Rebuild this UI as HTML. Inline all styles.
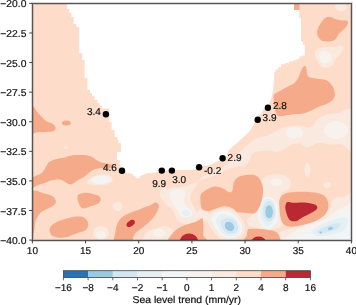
<!DOCTYPE html>
<html><head><meta charset="utf-8"><style>
html,body{margin:0;padding:0;background:#fff;width:356px;height:305px;overflow:hidden}
svg{display:block;will-change:transform}
text{font-family:"Liberation Sans",sans-serif;font-size:10.0px;fill:#111;stroke:#111;stroke-width:0.2px;text-rendering:geometricPrecision}
</style></head><body>
<svg width="356" height="305" viewBox="0 0 356 305">
<defs><clipPath id="pa"><rect x="32.4" y="3.4" width="319.0" height="236.7"/></clipPath></defs>

<g clip-path="url(#pa)">
<rect x="30" y="0" width="325" height="245" fill="#fddcc9"/>
<path fill="#fae9df" d="M86.5,182.3 C86.5,180.8 91.6,177.5 94.0,176.2 C96.4,174.9 98.7,174.5 101.0,174.3 C103.3,174.1 106.2,174.4 108.1,175.0 C110.0,175.6 112.0,176.8 112.5,178.1 C113.0,179.3 112.6,181.4 111.2,182.5 C109.8,183.6 106.9,184.4 104.0,184.8 C101.1,185.2 96.9,185.4 94.0,185.0 C91.1,184.6 86.5,183.8 86.5,182.3Z"/>
<ellipse fill="#fae9df" cx="117.6" cy="206.5" rx="5" ry="4.5"/>
<ellipse fill="#fae9df" cx="101" cy="233" rx="8" ry="7"/>
<path fill="#fae9df" d="M145.0,242.0 C139.8,240.3 145.3,234.2 147.0,232.0 C148.7,229.8 152.3,230.0 155.0,229.0 C157.7,228.0 160.5,226.2 163.0,226.0 C165.5,225.8 167.8,226.7 170.0,228.0 C172.2,229.3 174.7,231.7 176.0,234.0 C177.3,236.3 183.2,240.7 178.0,242.0 C172.8,243.3 150.2,243.7 145.0,242.0Z"/>
<path fill="#fae9df" d="M163.4,195.3 C163.7,193.1 165.4,191.5 166.8,190.2 C168.2,188.9 169.7,188.2 171.9,187.7 C174.2,187.1 177.5,187.3 180.3,186.9 C183.1,186.5 185.9,186.0 188.7,185.2 C191.5,184.3 194.4,182.9 197.2,181.8 C200.0,180.7 203.1,179.2 205.6,178.4 C208.1,177.6 209.1,178.0 212.3,176.7 C215.5,175.4 221.1,172.2 224.8,170.6 C228.5,169.0 231.4,168.2 234.7,167.3 C238.0,166.4 242.1,166.0 244.5,164.9 C246.9,163.8 248.3,162.3 249.4,160.8 C250.5,159.3 250.3,157.3 251.1,155.9 C251.9,154.5 252.9,153.4 254.3,152.6 C255.7,151.8 256.9,151.3 259.3,151.0 C261.7,150.7 265.7,150.3 268.7,150.5 C271.7,150.7 274.6,152.1 277.1,151.9 C279.6,151.7 281.6,150.4 283.8,149.3 C286.1,148.2 287.9,146.1 290.6,145.1 C293.3,144.1 297.2,143.1 300.0,143.4 C302.8,143.8 304.2,147.3 307.3,147.2 C310.4,147.1 315.0,143.5 318.8,143.0 C322.6,142.5 326.4,144.2 330.2,144.4 C334.0,144.6 338.8,143.7 341.7,144.4 C344.6,145.1 345.5,147.8 347.4,148.7 C349.3,149.6 352.1,156.3 353.0,150.0 C353.9,143.7 355.4,117.2 353.0,111.0 C350.6,104.8 343.1,112.4 338.8,112.9 C334.5,113.5 330.7,113.3 327.4,114.3 C324.1,115.2 321.7,116.4 318.8,118.6 C315.9,120.8 313.6,126.0 310.2,127.2 C306.8,128.4 303.0,125.8 298.7,125.8 C294.4,125.8 288.7,126.0 284.4,127.2 C280.1,128.4 276.1,131.4 272.9,132.9 C269.7,134.4 267.0,135.5 265.0,136.2 C263.0,136.9 262.4,136.6 260.9,137.0 C259.4,137.4 257.6,137.9 256.0,138.7 C254.4,139.5 252.8,140.7 251.1,141.9 C249.4,143.1 247.8,144.5 246.1,146.0 C244.4,147.5 242.8,149.3 241.2,151.0 C239.6,152.7 237.9,154.3 236.3,155.9 C234.7,157.5 233.3,159.2 231.4,160.8 C229.5,162.4 227.5,164.0 224.8,165.7 C222.1,167.4 218.3,169.4 215.0,171.0 C211.7,172.6 207.7,174.0 205.0,175.5 C202.3,177.0 200.3,178.4 199.0,180.0 C197.7,181.6 198.2,183.0 197.0,185.0 C195.8,187.0 193.2,189.6 192.1,191.9 C191.0,194.2 190.1,196.2 190.4,198.7 C190.7,201.2 192.7,204.6 193.8,207.1 C194.9,209.6 196.9,211.3 197.2,213.8 C197.5,216.3 197.4,220.3 195.5,222.0 C193.6,223.7 189.1,224.3 186.0,224.0 C182.9,223.7 178.7,221.4 176.9,220.0 C175.1,218.6 176.0,217.4 175.2,215.5 C174.4,213.6 173.6,210.8 171.9,208.8 C170.2,206.8 166.5,205.9 165.1,203.7 C163.7,201.4 163.1,197.6 163.4,195.3Z"/>
<path fill="#fae9df" d="M314.7,51.6 C315.3,49.3 318.1,48.5 321.5,47.7 C324.9,46.9 331.7,47.0 335.3,46.7 C338.9,46.4 342.1,44.9 343.2,45.7 C344.3,46.5 343.5,49.3 342.2,51.6 C340.9,53.9 337.1,57.0 335.3,59.5 C333.5,62.0 333.4,65.0 331.4,66.3 C329.4,67.6 325.8,68.1 323.5,67.3 C321.2,66.5 319.1,64.0 317.6,61.4 C316.1,58.8 314.1,53.9 314.7,51.6Z"/>
<ellipse fill="#fae9df" cx="341" cy="7" rx="6" ry="4"/>
<ellipse fill="#fae9df" cx="307.4" cy="170" rx="3" ry="7"/>
<ellipse fill="#fae9df" cx="327.3" cy="185" rx="4" ry="3"/>
<path fill="#fae9df" d="M268.0,178.0 C269.2,176.2 272.2,174.3 275.0,174.0 C277.8,173.7 282.3,174.7 285.0,176.0 C287.7,177.3 290.5,179.7 291.0,182.0 C291.5,184.3 289.8,188.3 288.0,190.0 C286.2,191.7 282.7,192.0 280.0,192.0 C277.3,192.0 274.0,191.2 272.0,190.0 C270.0,188.8 268.7,187.0 268.0,185.0 C267.3,183.0 266.8,179.8 268.0,178.0Z"/>
<ellipse fill="#fae9df" cx="341" cy="205" rx="10" ry="8"/>
<ellipse fill="#fae9df" cx="164" cy="194" rx="4" ry="7"/>
<ellipse fill="#fae9df" cx="66" cy="147.5" rx="2.5" ry="1.5"/>
<ellipse fill="#fae9df" cx="203" cy="215" rx="6" ry="7"/>
<path fill="#f8f2ef" d="M90.5,180.5 C90.3,179.2 94.1,177.2 96.0,176.3 C97.9,175.4 99.9,175.2 102.0,175.3 C104.1,175.4 107.1,176.0 108.5,176.8 C109.9,177.6 110.9,178.9 110.5,180.0 C110.1,181.1 108.2,182.9 106.0,183.6 C103.8,184.3 99.6,184.5 97.0,184.0 C94.4,183.5 90.7,181.8 90.5,180.5Z"/>
<path fill="#f8f2ef" d="M170.2,191.9 C171.3,190.6 174.7,189.7 176.9,189.4 C179.2,189.1 182.3,189.2 183.7,190.2 C185.1,191.2 185.4,193.6 185.4,195.3 C185.4,197.0 183.4,198.4 183.7,200.4 C184.0,202.4 185.9,205.4 187.0,207.1 C188.1,208.8 190.1,209.1 190.4,210.5 C190.7,211.9 190.1,214.4 188.7,215.5 C187.3,216.6 183.7,217.8 182.0,217.2 C180.3,216.6 180.0,214.4 178.6,212.2 C177.2,209.9 174.9,206.2 173.5,203.7 C172.1,201.2 170.8,199.0 170.2,197.0 C169.6,195.0 169.1,193.2 170.2,191.9Z"/>
<ellipse fill="#f8f2ef" cx="294.4" cy="132.9" rx="8.6" ry="5.7"/>
<ellipse fill="#f8f2ef" cx="336" cy="130" rx="12" ry="9"/>
<path fill="#f8f2ef" d="M319.6,52.6 C320.6,51.5 323.5,50.3 325.5,50.6 C327.5,50.9 330.4,53.1 331.4,54.6 C332.4,56.1 332.1,58.0 331.4,59.5 C330.7,61.0 329.0,62.9 327.4,63.4 C325.8,63.9 322.8,63.4 321.5,62.4 C320.2,61.4 319.9,59.1 319.6,57.5 C319.3,55.9 318.6,53.8 319.6,52.6Z"/>
<ellipse fill="#f8f2ef" cx="101" cy="235" rx="4.5" ry="4"/>
<ellipse fill="#f8f2ef" cx="159" cy="233" rx="6" ry="4"/>
<ellipse fill="#f8f2ef" cx="275" cy="182.5" rx="5" ry="3.5"/>
<path fill="#f2f5f6" d="M94.0,178.1 C95.2,177.4 98.9,176.7 101.0,176.7 C103.1,176.7 105.5,177.4 106.7,178.1 C107.9,178.8 108.6,180.1 108.1,180.9 C107.6,181.7 105.8,182.7 103.9,183.0 C102.0,183.3 98.6,183.3 96.9,183.0 C95.2,182.7 94.5,181.7 94.0,180.9 C93.5,180.1 92.8,178.8 94.0,178.1Z"/>
<path fill="#fae9df" d="M207.0,219.0 C207.4,217.1 209.0,214.2 211.0,212.5 C213.0,210.8 216.3,209.7 219.0,209.0 C221.7,208.3 224.5,208.2 227.0,208.5 C229.5,208.8 232.0,209.9 234.0,211.0 C236.0,212.1 237.4,213.2 239.0,215.0 C240.6,216.8 242.5,219.3 243.5,221.5 C244.5,223.7 245.1,225.8 245.0,228.0 C244.9,230.2 244.5,233.1 243.0,235.0 C241.5,236.9 238.7,238.6 236.0,239.5 C233.3,240.4 229.8,240.8 227.0,240.5 C224.2,240.2 221.4,239.2 219.0,237.5 C216.6,235.8 214.2,232.2 212.5,230.0 C210.8,227.8 209.4,225.8 208.5,224.0 C207.6,222.2 206.6,220.9 207.0,219.0Z"/>
<path fill="#f2f5f6" d="M211.2,218.3 C211.4,216.9 212.6,215.2 214.0,214.0 C215.4,212.8 217.6,211.7 219.7,211.2 C221.8,210.7 224.6,210.8 226.7,211.2 C228.8,211.5 230.7,212.4 232.3,213.3 C233.9,214.2 235.1,215.4 236.5,216.9 C237.9,218.4 239.8,220.6 240.7,222.5 C241.6,224.4 242.1,226.2 242.1,228.1 C242.1,230.0 241.9,232.2 240.7,233.7 C239.5,235.2 237.2,236.5 235.1,237.2 C233.0,237.9 230.4,238.2 228.1,237.9 C225.8,237.6 223.2,236.7 221.1,235.1 C219.0,233.5 216.8,230.2 215.4,228.1 C214.0,226.0 213.3,224.1 212.6,222.5 C211.9,220.9 211.0,219.7 211.2,218.3Z"/>
<path fill="#e6eff4" d="M216.0,219.7 C216.3,217.7 218.6,215.6 220.4,214.8 C222.2,214.0 224.4,214.3 226.7,214.8 C229.0,215.3 232.3,215.9 234.4,217.7 C236.5,219.4 238.5,223.1 239.3,225.3 C240.2,227.5 239.8,229.3 239.5,230.9 C239.2,232.5 239.2,234.2 237.5,235.0 C235.8,235.8 232.0,236.2 229.5,236.0 C227.0,235.8 224.3,235.0 222.5,233.5 C220.7,232.0 219.6,229.3 218.5,227.0 C217.4,224.7 215.7,221.7 216.0,219.7Z"/>
<path fill="#d4e6f1" d="M221.1,221.1 C222.0,220.1 224.8,218.7 226.7,218.3 C228.6,218.0 230.7,218.3 232.3,219.0 C233.9,219.7 235.6,221.0 236.5,222.5 C237.4,224.0 238.0,226.5 237.9,228.1 C237.8,229.7 237.0,231.4 235.8,232.3 C234.6,233.2 232.5,233.7 230.9,233.7 C229.3,233.7 227.4,233.2 226.0,232.3 C224.6,231.4 223.3,229.4 222.5,228.1 C221.7,226.8 221.3,225.8 221.1,224.6 C220.9,223.4 220.2,222.1 221.1,221.1Z"/>
<ellipse fill="#9bc9e0" cx="229.5" cy="226.4" rx="5.2" ry="4.2" transform="rotate(45 229.5 226.4)"/>
<path fill="#fae9df" d="M255.0,192.0 C255.8,188.2 259.5,182.8 262.0,180.0 C264.5,177.2 266.5,175.7 270.0,175.0 C273.5,174.3 280.2,174.3 283.0,176.0 C285.8,177.7 287.3,181.8 287.0,185.0 C286.7,188.2 282.2,190.0 281.0,195.0 C279.8,200.0 279.8,210.0 280.0,215.0 C280.2,220.0 282.7,222.7 282.0,225.0 C281.3,227.3 279.3,228.3 276.0,229.0 C272.7,229.7 266.3,229.5 262.0,229.0 C257.7,228.5 252.5,227.5 250.0,226.0 C247.5,224.5 246.5,222.0 247.0,220.0 C247.5,218.0 251.3,216.8 253.0,214.0 C254.7,211.2 256.7,206.7 257.0,203.0 C257.3,199.3 254.2,195.8 255.0,192.0Z"/>
<ellipse fill="#f8f2ef" cx="276.5" cy="182.5" rx="6" ry="4"/>
<ellipse fill="#f2f5f6" cx="268" cy="212.8" rx="10.3" ry="16.3"/>
<ellipse fill="#e6eff4" cx="268" cy="212.3" rx="8.1" ry="13.5"/>
<ellipse fill="#d4e6f1" cx="269" cy="211.2" rx="6" ry="10.3"/>
<ellipse fill="#9bc9e0" cx="269.1" cy="211.8" rx="3.8" ry="6.5"/>
<ellipse fill="#f2f5f6" cx="186.2" cy="213" rx="6" ry="4.5"/>
<ellipse fill="#e6eff4" cx="186.2" cy="213" rx="4" ry="3"/>
<ellipse fill="#f2f5f6" cx="175.2" cy="191.9" rx="3" ry="2"/>
<path fill="#fae9df" d="M276.0,242.0 C263.2,240.7 273.2,236.4 276.0,234.0 C278.8,231.6 287.7,229.8 293.0,227.7 C298.3,225.6 303.0,223.4 308.0,221.3 C313.0,219.2 319.1,217.4 323.0,214.9 C326.9,212.4 328.6,208.9 331.5,206.4 C334.4,203.9 336.5,201.8 340.1,200.0 C343.7,198.2 350.9,188.7 353.0,195.7 C355.1,202.7 365.8,234.3 353.0,242.0 C340.2,249.7 288.8,243.3 276.0,242.0Z"/>
<path fill="#f8f2ef" d="M286.0,242.0 C275.2,241.0 285.6,238.3 288.0,236.0 C290.4,233.7 296.5,230.1 300.5,228.0 C304.5,225.9 307.8,225.1 312.0,223.5 C316.2,221.9 322.0,220.6 326.0,218.5 C330.0,216.4 333.0,212.9 336.0,211.0 C339.0,209.1 341.2,208.0 344.0,207.0 C346.8,206.0 351.5,199.2 353.0,205.0 C354.5,210.8 364.2,235.8 353.0,242.0 C341.8,248.2 296.8,243.0 286.0,242.0Z"/>
<path fill="#f2f5f6" d="M295.2,242.0 C286.4,241.0 297.9,237.7 300.0,236.0 C302.1,234.3 303.8,234.3 308.0,232.0 C312.2,229.7 319.8,225.2 325.1,222.4 C330.5,219.6 336.2,216.9 340.1,214.9 C344.0,212.9 346.5,211.4 348.6,210.6 C350.8,209.8 352.3,204.8 353.0,210.0 C353.7,215.2 362.6,236.7 353.0,242.0 C343.4,247.3 304.0,243.0 295.2,242.0Z"/>
<path fill="#e6eff4" d="M312.3,231.0 C313.0,228.9 319.1,225.5 323.0,223.5 C326.9,221.5 332.2,220.3 335.8,219.2 C339.4,218.1 342.4,216.7 344.4,217.0 C346.4,217.3 347.6,219.2 347.6,221.3 C347.6,223.5 346.7,227.8 344.4,229.9 C342.1,232.0 338.0,233.0 333.7,234.1 C329.4,235.2 322.3,236.8 318.7,236.3 C315.1,235.8 311.6,233.1 312.3,231.0Z"/>
<path fill="#d4e6f1" d="M317.0,231.0 C317.8,229.9 322.3,228.2 325.0,227.0 C327.7,225.8 330.7,224.7 333.0,224.0 C335.3,223.3 337.8,222.7 339.0,223.0 C340.2,223.3 340.5,224.9 340.0,226.0 C339.5,227.1 338.0,228.5 336.0,229.5 C334.0,230.5 330.7,231.3 328.0,232.0 C325.3,232.7 321.8,233.7 320.0,233.5 C318.2,233.3 316.2,232.1 317.0,231.0Z"/>
<ellipse fill="#9bc9e0" cx="330.4" cy="228.5" rx="2.5" ry="1.5" transform="rotate(-15 330.4 228.5)"/>
<ellipse fill="#9bc9e0" cx="320.8" cy="232.4" rx="1.3" ry="1"/>
<path fill="#f5aa89" d="M31.0,106.0 C32.3,103.2 36.5,111.5 39.0,114.0 C41.5,116.5 43.7,119.3 46.0,121.0 C48.3,122.7 51.4,122.9 53.0,124.0 C54.6,125.1 55.3,126.3 55.5,127.5 C55.7,128.7 55.6,130.2 54.0,131.0 C52.4,131.8 48.5,131.8 46.0,132.0 C43.5,132.2 41.5,132.2 39.0,132.0 C36.5,131.8 32.3,135.3 31.0,131.0 C29.7,126.7 29.7,108.8 31.0,106.0Z"/>
<ellipse fill="#f5aa89" cx="66.4" cy="123" rx="4.5" ry="2.5"/>
<path fill="#f5aa89" d="M31.0,178.7 C32.8,176.1 39.2,175.2 41.8,173.0 C44.4,170.8 45.6,167.4 46.8,165.6 C48.0,163.8 47.4,163.1 49.0,162.0 C50.6,160.9 54.8,159.6 56.6,159.0 C58.4,158.4 58.6,158.6 60.0,158.3 C61.4,158.1 63.1,157.9 64.7,157.5 C66.3,157.1 67.6,156.3 69.4,155.9 C71.2,155.5 73.3,155.2 75.7,155.1 C78.1,155.0 81.0,154.8 83.6,155.1 C86.2,155.4 89.4,155.9 91.5,156.7 C93.6,157.5 94.6,159.0 96.2,159.9 C97.8,160.8 99.3,161.6 100.9,162.2 C102.5,162.8 104.0,163.0 106.0,163.5 C108.0,164.0 111.8,164.3 113.0,165.0 C114.2,165.7 114.2,166.9 113.0,167.5 C111.8,168.1 108.5,168.1 106.0,168.3 C103.5,168.5 100.0,168.2 97.8,168.5 C95.6,168.8 94.6,169.3 93.0,170.1 C91.4,170.9 89.9,172.0 88.3,173.2 C86.7,174.4 85.2,176.1 83.6,177.2 C82.0,178.2 80.5,178.6 78.9,179.5 C77.3,180.4 75.7,181.9 74.2,182.7 C72.7,183.5 71.5,184.5 70.0,184.4 C68.5,184.3 66.7,182.8 65.0,182.0 C63.3,181.2 62.2,179.8 60.0,179.5 C57.8,179.2 54.2,179.7 51.7,180.3 C49.2,180.9 47.2,182.2 45.0,183.0 C42.8,183.8 40.2,184.4 38.5,185.0 C36.8,185.6 36.2,185.9 35.0,186.5 C33.8,187.1 31.7,189.8 31.0,188.5 C30.3,187.2 29.2,181.3 31.0,178.7Z"/>
<path fill="#f5aa89" d="M31.0,193.8 C33.3,186.8 41.2,193.3 45.0,193.8 C48.8,194.3 51.8,195.6 53.6,197.0 C55.4,198.4 56.1,200.9 55.8,202.5 C55.4,204.1 53.7,205.4 51.5,206.8 C49.3,208.2 45.0,209.7 42.8,211.1 C40.6,212.5 39.8,213.7 38.5,215.5 C37.2,217.3 35.9,219.5 35.2,222.0 C34.5,224.5 34.9,228.3 34.2,230.6 C33.5,232.9 31.5,242.1 31.0,236.0 C30.5,229.9 28.7,200.8 31.0,193.8Z"/>
<path fill="#f5aa89" d="M78.0,195.1 C79.0,193.8 81.2,193.1 83.7,192.9 C86.2,192.7 90.1,193.4 92.7,194.0 C95.3,194.6 98.1,195.1 99.4,196.2 C100.7,197.3 100.9,199.4 100.5,200.7 C100.1,202.0 98.9,203.2 97.2,204.1 C95.5,205.0 92.7,205.6 90.4,206.3 C88.2,207.1 85.4,208.6 83.7,208.6 C82.0,208.6 81.2,207.6 80.3,206.3 C79.3,205.0 78.4,202.6 78.0,200.7 C77.6,198.8 77.0,196.4 78.0,195.1Z"/>
<path fill="#f5aa89" d="M50.0,227.7 C50.8,226.2 51.9,224.7 54.5,223.2 C57.1,221.7 62.0,219.8 65.7,218.7 C69.4,217.6 73.9,216.7 76.9,216.5 C79.9,216.3 81.8,216.5 83.7,217.6 C85.6,218.7 87.8,221.1 88.2,223.2 C88.6,225.3 87.8,228.3 85.9,230.0 C84.0,231.7 79.9,232.2 76.9,233.3 C73.9,234.4 71.0,235.9 68.0,236.7 C65.0,237.4 61.6,238.0 59.0,237.8 C56.4,237.6 53.7,236.5 52.2,235.6 C50.7,234.7 50.4,233.5 50.0,232.2 C49.6,230.9 49.2,229.2 50.0,227.7Z"/>
<path fill="#f5aa89" d="M115.3,242.0 C112.5,240.5 114.9,236.1 115.3,232.9 C115.7,229.7 116.5,225.5 117.8,222.8 C119.1,220.1 120.8,218.2 122.9,216.5 C125.0,214.8 127.5,214.0 130.4,212.7 C133.3,211.4 137.2,210.2 140.6,208.9 C144.0,207.6 148.2,206.2 150.7,205.1 C153.2,204.0 154.3,202.6 155.7,202.6 C157.0,202.6 158.5,203.8 158.8,205.1 C159.1,206.4 158.6,208.1 157.7,210.2 C156.8,212.3 155.0,215.4 153.2,217.7 C151.4,220.0 149.0,222.2 146.9,224.1 C144.8,226.0 142.5,227.6 140.6,229.1 C138.7,230.6 136.8,231.4 135.5,232.9 C134.2,234.4 133.6,236.5 133.0,238.0 C132.4,239.5 134.9,241.3 132.0,242.0 C129.1,242.7 118.1,243.5 115.3,242.0Z"/>
<path fill="#f5aa89" d="M200.6,195.3 C201.1,193.1 202.4,192.7 204.0,191.5 C205.6,190.3 208.0,188.8 210.0,188.0 C212.0,187.2 213.8,186.4 216.0,186.5 C218.2,186.6 220.9,187.6 223.0,188.5 C225.1,189.4 227.2,191.6 228.7,192.0 C230.2,192.4 231.4,192.3 232.2,191.0 C233.0,189.7 232.8,185.9 233.4,184.0 C234.0,182.1 234.3,180.7 235.7,179.3 C237.0,177.9 239.0,176.6 241.5,175.8 C244.0,175.0 248.1,174.6 250.8,174.7 C253.5,174.8 255.6,175.0 257.5,176.5 C259.4,178.0 261.1,181.1 262.0,183.7 C262.9,186.3 263.3,189.1 263.1,192.3 C262.9,195.5 262.1,199.8 261.0,203.1 C259.9,206.3 258.2,210.1 256.6,211.8 C255.0,213.5 253.9,213.4 251.5,213.5 C249.1,213.6 244.6,212.9 242.1,212.6 C239.6,212.3 237.9,212.5 236.5,211.9 C235.1,211.3 234.9,209.9 233.7,209.1 C232.5,208.3 231.1,207.5 229.5,207.0 C227.9,206.5 225.8,206.2 223.9,206.3 C222.0,206.4 220.2,207.1 218.3,207.7 C216.4,208.3 214.2,209.2 212.6,209.8 C210.9,210.4 210.0,211.2 208.4,211.2 C206.8,211.2 204.1,210.9 202.8,209.8 C201.5,208.8 201.2,207.3 200.8,204.9 C200.4,202.5 200.1,197.5 200.6,195.3Z"/>
<path fill="#f5aa89" d="M170.8,242.0 C165.0,240.9 169.7,237.8 170.8,235.6 C171.9,233.4 174.8,230.8 177.3,229.0 C179.8,227.2 182.8,226.1 186.0,224.8 C189.2,223.6 194.1,222.6 196.8,221.5 C199.5,220.4 201.1,217.8 202.2,218.3 C203.3,218.9 203.1,221.9 203.3,224.8 C203.5,227.7 202.9,232.7 203.3,235.6 C203.7,238.5 210.9,240.9 205.5,242.0 C200.1,243.1 176.6,243.1 170.8,242.0Z"/>
<path fill="#f5aa89" d="M246.0,242.0 C240.6,240.9 246.5,237.5 246.8,235.6 C247.1,233.7 247.2,231.6 247.6,230.5 C248.0,229.4 247.2,229.2 249.3,228.9 C251.4,228.6 256.5,228.6 260.3,228.9 C264.1,229.2 269.6,229.9 272.1,230.5 C274.6,231.1 274.5,231.1 275.5,232.2 C276.5,233.3 277.4,235.7 278.0,237.3 C278.6,238.9 284.3,241.2 279.0,242.0 C273.7,242.8 251.4,243.1 246.0,242.0Z"/>
<path fill="#f5aa89" d="M279.4,200.2 C279.9,198.2 281.0,196.4 282.7,195.1 C284.4,193.8 286.4,193.2 289.5,192.6 C292.6,192.0 297.1,191.7 301.3,191.7 C305.5,191.7 311.2,192.0 314.8,192.6 C318.4,193.2 321.1,193.8 323.2,195.1 C325.3,196.4 326.5,198.2 327.4,200.2 C328.2,202.2 328.6,204.7 328.3,206.9 C328.0,209.2 327.1,211.7 325.7,213.7 C324.3,215.7 321.9,217.3 319.8,218.7 C317.7,220.1 315.6,221.1 313.1,222.1 C310.6,223.1 307.5,223.9 304.7,224.6 C301.9,225.3 299.0,226.0 296.2,226.3 C293.4,226.6 290.1,226.9 287.8,226.3 C285.6,225.7 284.0,224.7 282.7,222.9 C281.4,221.1 280.8,218.1 280.2,215.4 C279.6,212.7 279.5,209.4 279.4,206.9 C279.3,204.4 278.8,202.2 279.4,200.2Z"/>
<path fill="#f5aa89" d="M270.0,242.0 C268.3,240.3 268.8,233.5 270.0,232.0 C271.2,230.5 275.8,231.3 277.5,233.0 C279.2,234.7 281.2,240.5 280.0,242.0 C278.8,243.5 271.7,243.7 270.0,242.0Z"/>
<path fill="#f5aa89" d="M273.9,101.7 C273.8,99.7 273.0,96.8 274.0,95.0 C275.0,93.2 277.5,92.3 279.7,91.0 C281.9,89.7 284.6,88.2 287.0,86.9 C289.4,85.6 292.5,84.6 294.3,83.2 C296.1,81.8 297.0,80.1 298.0,78.3 C299.0,76.5 299.7,74.0 300.5,72.2 C301.3,70.4 302.1,68.3 302.9,67.3 C303.7,66.3 304.7,65.7 305.3,66.1 C305.9,66.5 306.2,68.2 306.6,69.8 C307.0,71.4 306.6,74.5 307.8,75.9 C309.0,77.3 311.2,77.7 313.9,78.3 C316.5,78.9 321.2,79.0 323.7,79.6 C326.2,80.2 327.4,80.6 329.0,82.0 C330.6,83.4 332.5,85.9 333.5,88.0 C334.5,90.1 334.9,92.8 334.8,94.8 C334.7,96.8 334.2,98.2 332.9,99.7 C331.6,101.2 329.3,102.6 327.0,103.7 C324.7,104.8 321.7,105.4 319.1,106.6 C316.5,107.8 313.9,109.4 311.3,110.6 C308.7,111.8 306.0,112.9 303.4,113.5 C300.8,114.1 298.4,113.8 295.5,114.1 C292.6,114.4 288.3,115.2 285.7,115.5 C283.1,115.8 281.3,116.3 279.8,116.1 C278.3,115.9 277.7,116.0 276.8,114.5 C275.9,113.0 275.0,109.1 274.5,107.0 C274.0,104.9 274.0,103.7 273.9,101.7Z"/>
<path fill="#f5aa89" d="M317.0,32.5 C317.0,29.8 319.0,26.0 320.5,23.5 C322.0,21.0 324.3,18.6 326.0,17.5 C327.7,16.4 329.3,16.9 330.9,17.2 C332.5,17.5 334.2,18.7 335.8,19.2 C337.4,19.7 339.1,20.0 340.7,20.2 C342.3,20.4 344.5,20.5 345.7,20.6 C346.9,20.8 347.3,20.4 347.6,21.1 C347.9,21.8 348.1,23.4 347.6,24.6 C347.1,25.8 346.2,26.9 344.7,28.5 C343.2,30.1 340.2,32.4 338.6,34.3 C337.0,36.2 336.8,38.5 335.0,39.7 C333.2,40.9 330.2,41.5 327.8,41.5 C325.4,41.5 322.3,41.2 320.5,39.7 C318.7,38.2 317.0,35.2 317.0,32.5Z"/>
<path fill="#f5aa89" d="M293,2 L299.5,2 L299.5,10 L294,10Z"/>
<ellipse fill="#ba2832" cx="130.7" cy="223.5" rx="4.6" ry="2.8" transform="rotate(-35 130.7 223.5)"/>
<ellipse fill="#ba2832" cx="189" cy="241" rx="9" ry="7.5"/>
<ellipse fill="#ba2832" cx="258.5" cy="241.3" rx="7" ry="4.8"/>
<path fill="#ba2832" d="M286.1,203.5 C286.5,202.7 286.7,202.0 287.8,201.9 C288.9,201.8 291.2,202.6 292.9,202.7 C294.6,202.8 295.6,202.7 297.9,202.7 C300.1,202.7 303.6,202.4 306.4,202.7 C309.2,203.0 313.0,203.7 314.8,204.4 C316.6,205.1 317.2,205.9 317.3,206.9 C317.4,207.9 316.9,209.2 315.6,210.3 C314.3,211.4 311.8,212.6 309.7,213.7 C307.6,214.8 305.0,215.9 303.0,217.0 C301.0,218.1 299.3,219.7 297.9,220.4 C296.5,221.1 295.8,221.3 294.5,221.3 C293.2,221.3 291.4,221.1 290.3,220.4 C289.2,219.7 288.5,218.4 287.8,217.0 C287.1,215.6 286.5,213.7 286.1,212.0 C285.7,210.3 285.3,208.3 285.3,206.9 C285.3,205.5 285.7,204.3 286.1,203.5Z"/>
<path fill="#fff" d="M67,0 V9 H69.4 V13 H71.4 V17 H73.7 V24 H76.3 V27 H79.2 V53 H82.2 V60 H84.6 V78 H87.5 V90 H90 V93 H91.9 V96 H94.4 V100 H97.4 V103 H99.4 V106 H101.7 V108.5 H109.5 V122 H111.6 V130 H114.6 V137 H117.6 V140 H118.4 V143 H121 V152 H117 V160 H119.7 V164 L121,167 L123,170 L125.4,170.5 V172.4 L127.9,173 L130.4,173.6 L132.8,174.2 L133.5,175.8 L135.3,176.1 L135.9,178.3 L139,178.3 L139.6,176.7 L141.5,175.5 L144.6,174.2 L146.4,173.3 L150.1,173 L155.1,172.4 L158.8,171.7 L162,171.1 L172,170.2 L195.1,169.7 L201.4,166.5 L209,165.2 L214.1,163.3 L216.6,161.4 L222.9,160.2 L226.7,156 L228.6,150.2 L233.1,146.2 L237.1,143 L240.4,139.7 L243.6,137 L246.3,134.4 L250.2,130.5 L252.8,125.9 L255.4,122.6 L258.3,116.5 L261.2,113.6 L262.7,110.6 L267.1,106.2 L268.6,104.7 L270,101.8 L271.5,97.4 L273,90 L274,80 L274.4,72.1 H275.7 V69.5 H278.4 V66.9 H281 V64.3 H284.9 V63 H288.9 V61.6 H292.8 V60.3 H296.7 V59 H299.3 V56.4 H302 V55.5 H304.8 V44.7 H303 V41.8 H301 V18 H299.3 V10 H294 V0 Z"/>
</g>
<rect x="32.5" y="3.5" width="319" height="237" fill="none" stroke="#000" stroke-opacity="0.16" stroke-width="3"/>
<rect x="32.5" y="3.5" width="319" height="237" fill="none" stroke="#555" stroke-width="1"/>
<path stroke="#444" stroke-width="1" d="M29.2,3.40 H32.4 M29.2,32.99 H32.4 M29.2,62.57 H32.4 M29.2,92.16 H32.4 M29.2,121.75 H32.4 M29.2,151.34 H32.4 M29.2,180.92 H32.4 M29.2,210.51 H32.4 M29.2,240.10 H32.4 M32.40,240.1 V243.4 M85.57,240.1 V243.4 M138.73,240.1 V243.4 M191.90,240.1 V243.4 M245.07,240.1 V243.4 M298.23,240.1 V243.4 M351.40,240.1 V243.4"/>
<g transform="translate(26.4,7.4) scale(1.03,1)"><text x="0" y="0" text-anchor="end">−20.0</text></g>
<g transform="translate(26.4,36.99) scale(1.03,1)"><text x="0" y="0" text-anchor="end">−22.5</text></g>
<g transform="translate(26.4,66.57) scale(1.03,1)"><text x="0" y="0" text-anchor="end">−25.0</text></g>
<g transform="translate(26.4,96.16) scale(1.03,1)"><text x="0" y="0" text-anchor="end">−27.5</text></g>
<g transform="translate(26.4,125.75) scale(1.03,1)"><text x="0" y="0" text-anchor="end">−30.0</text></g>
<g transform="translate(26.4,155.34) scale(1.03,1)"><text x="0" y="0" text-anchor="end">−32.5</text></g>
<g transform="translate(26.4,184.92) scale(1.03,1)"><text x="0" y="0" text-anchor="end">−35.0</text></g>
<g transform="translate(26.4,214.51) scale(1.03,1)"><text x="0" y="0" text-anchor="end">−37.5</text></g>
<g transform="translate(26.4,244.1) scale(1.03,1)"><text x="0" y="0" text-anchor="end">−40.0</text></g>
<g transform="translate(32.4,254.3) scale(1.0,1)"><text x="0" y="0" text-anchor="middle">10</text></g>
<g transform="translate(85.57,254.3) scale(1.0,1)"><text x="0" y="0" text-anchor="middle">15</text></g>
<g transform="translate(138.73,254.3) scale(1.0,1)"><text x="0" y="0" text-anchor="middle">20</text></g>
<g transform="translate(191.9,254.3) scale(1.0,1)"><text x="0" y="0" text-anchor="middle">25</text></g>
<g transform="translate(245.07,254.3) scale(1.0,1)"><text x="0" y="0" text-anchor="middle">30</text></g>
<g transform="translate(298.23,254.3) scale(1.0,1)"><text x="0" y="0" text-anchor="middle">35</text></g>
<g transform="translate(351.4,254.3) scale(1.0,1)"><text x="0" y="0" text-anchor="middle">40</text></g>
<g fill="#000"><circle cx="105.9" cy="114.3" r="3.2"/><circle cx="122" cy="170.8" r="3.2"/><circle cx="161.8" cy="170.6" r="3.2"/><circle cx="171.9" cy="170.6" r="3.2"/><circle cx="199.1" cy="167.3" r="3.2"/><circle cx="222.6" cy="158.2" r="3.2"/><circle cx="267.9" cy="107.8" r="3.2"/><circle cx="257.7" cy="119.8" r="3.2"/></g>
<g transform="translate(86.9,114.5) scale(1.0,1)"><text x="0" y="0" text-anchor="start">3.4</text></g>
<g transform="translate(102.9,171.2) scale(1.0,1)"><text x="0" y="0" text-anchor="start">4.6</text></g>
<g transform="translate(159.2,187.2) scale(1.0,1)"><text x="0" y="0" text-anchor="middle">9.9</text></g>
<g transform="translate(172.2,182.6) scale(1.0,1)"><text x="0" y="0" text-anchor="start">3.0</text></g>
<g transform="translate(204,174.2) scale(1.0,1)"><text x="0" y="0" text-anchor="start">-0.2</text></g>
<g transform="translate(227.6,160.5) scale(1.0,1)"><text x="0" y="0" text-anchor="start">2.9</text></g>
<g transform="translate(273,109.3) scale(1.0,1)"><text x="0" y="0" text-anchor="start">2.8</text></g>
<g transform="translate(262.6,120.5) scale(1.0,1)"><text x="0" y="0" text-anchor="start">3.9</text></g>
<rect x="63.40" y="270.7" width="24.75" height="6.800000000000011" fill="#2a71b2"/>
<rect x="88.10" y="270.7" width="24.75" height="6.800000000000011" fill="#9bc9e0"/>
<rect x="112.80" y="270.7" width="24.75" height="6.800000000000011" fill="#d4e6f1"/>
<rect x="137.50" y="270.7" width="24.75" height="6.800000000000011" fill="#e6eff4"/>
<rect x="162.20" y="270.7" width="24.75" height="6.800000000000011" fill="#f2f5f6"/>
<rect x="186.90" y="270.7" width="24.75" height="6.800000000000011" fill="#f8f2ef"/>
<rect x="211.60" y="270.7" width="24.75" height="6.800000000000011" fill="#fae9df"/>
<rect x="236.30" y="270.7" width="24.75" height="6.800000000000011" fill="#fddcc9"/>
<rect x="261.00" y="270.7" width="24.75" height="6.800000000000011" fill="#f5aa89"/>
<rect x="285.70" y="270.7" width="24.75" height="6.800000000000011" fill="#ba2832"/>
<rect x="63.4" y="270.7" width="246.99999999999997" height="6.800000000000011" fill="none" stroke="#444" stroke-width="0.8"/>
<path stroke="#444" stroke-width="0.8" d="M63.40,277.5 V280.3 M88.10,277.5 V280.3 M112.80,277.5 V280.3 M137.50,277.5 V280.3 M162.20,277.5 V280.3 M186.90,277.5 V280.3 M211.60,277.5 V280.3 M236.30,277.5 V280.3 M261.00,277.5 V280.3 M285.70,277.5 V280.3 M310.40,277.5 V280.3"/>
<g transform="translate(63.4,291.0) scale(1.0,1)"><text x="0" y="0" text-anchor="middle">−16</text></g>
<g transform="translate(88.1,291.0) scale(1.0,1)"><text x="0" y="0" text-anchor="middle">−8</text></g>
<g transform="translate(112.8,291.0) scale(1.0,1)"><text x="0" y="0" text-anchor="middle">−4</text></g>
<g transform="translate(137.5,291.0) scale(1.0,1)"><text x="0" y="0" text-anchor="middle">−2</text></g>
<g transform="translate(162.2,291.0) scale(1.0,1)"><text x="0" y="0" text-anchor="middle">−1</text></g>
<g transform="translate(186.9,291.0) scale(1.0,1)"><text x="0" y="0" text-anchor="middle">0</text></g>
<g transform="translate(211.6,291.0) scale(1.0,1)"><text x="0" y="0" text-anchor="middle">1</text></g>
<g transform="translate(236.3,291.0) scale(1.0,1)"><text x="0" y="0" text-anchor="middle">2</text></g>
<g transform="translate(261.0,291.0) scale(1.0,1)"><text x="0" y="0" text-anchor="middle">4</text></g>
<g transform="translate(285.7,291.0) scale(1.0,1)"><text x="0" y="0" text-anchor="middle">8</text></g>
<g transform="translate(310.4,291.0) scale(1.0,1)"><text x="0" y="0" text-anchor="middle">16</text></g>
<g transform="translate(186.7,303.4) scale(1.045,1)"><text x="0" y="0" text-anchor="middle">Sea level trend (mm/yr)</text></g>
</svg>
</body></html>
